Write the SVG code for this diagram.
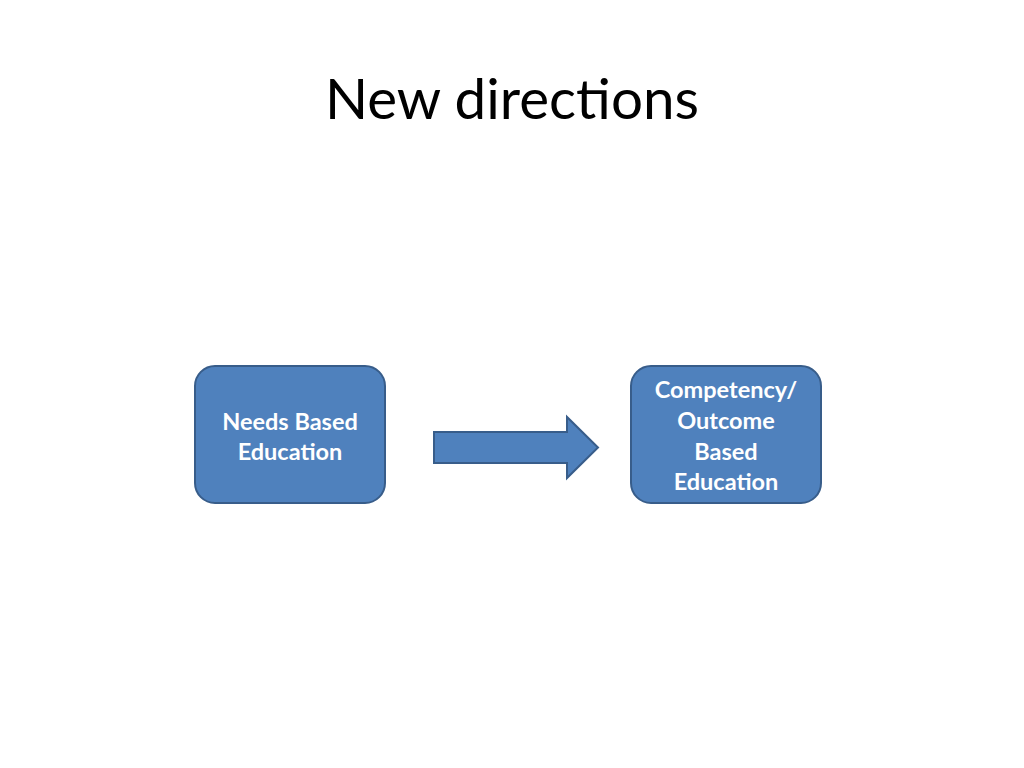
<svg xmlns="http://www.w3.org/2000/svg" width="1024" height="768" viewBox="0 0 1024 768">
<style>
.box{fill:#4F81BD;stroke:#385D8A;stroke-width:2}
.lbl{font-family:Lato,"Open Sans",sans-serif;font-weight:bold;font-size:23.5px;fill:#FFFFFF;text-anchor:middle}
.title{font-family:Lato,"Open Sans",sans-serif;font-size:56px;fill:#000000;text-anchor:middle}
</style>
<rect width="1024" height="768" fill="#FFFFFF"/>
<text class="title" x="512" y="119" textLength="374" lengthAdjust="spacingAndGlyphs">New directions</text>
<g id="node-needs">
<rect class="box" x="195" y="366" width="190" height="137" rx="20"/>
<text class="lbl" x="290" y="430">Needs Based</text>
<text class="lbl" x="290" y="460">Education</text>
</g>
<g id="node-competency">
<rect class="box" x="631" y="366" width="190" height="137" rx="20"/>
<text class="lbl" x="726" y="398">Competency/</text>
<text class="lbl" x="726" y="429">Outcome</text>
<text class="lbl" x="726" y="460">Based</text>
<text class="lbl" x="726" y="490">Education</text>
</g>
<g id="connectors">
<path class="box" d="M434,432 L567,432 L567,417 L598,447.5 L567,478 L567,463 L434,463 Z"/>
</g>
</svg>
